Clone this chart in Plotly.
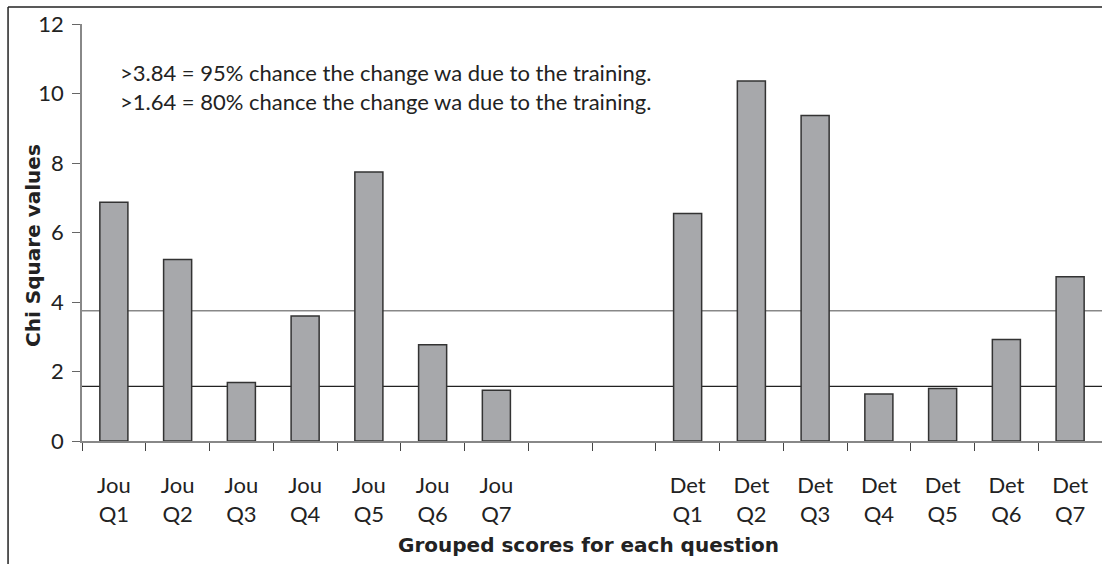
import plotly.graph_objects as go

categories = ["Jou<br>Q1", "Jou<br>Q2", "Jou<br>Q3", "Jou<br>Q4", "Jou<br>Q5", "Jou<br>Q6", "Jou<br>Q7",
              "gap1", "gap2",
              "Det<br>Q1", "Det<br>Q2", "Det<br>Q3", "Det<br>Q4", "Det<br>Q5", "Det<br>Q6", "Det<br>Q7"]
tick_labels = ["Jou<br>Q1", "Jou<br>Q2", "Jou<br>Q3", "Jou<br>Q4", "Jou<br>Q5", "Jou<br>Q6", "Jou<br>Q7",
               "", "",
               "Det<br>Q1", "Det<br>Q2", "Det<br>Q3", "Det<br>Q4", "Det<br>Q5", "Det<br>Q6", "Det<br>Q7"]
chi_values = [6.87, 5.22, 1.68, 3.60, 7.74, 2.77, 1.46,
              None, None,
              6.55, 10.36, 9.37, 1.35, 1.51, 2.92, 4.73]
threshold_95 = 3.75
threshold_80 = 1.57

FONT = "Lato"
TITLE_FONT = "DejaVu Sans"
TXT = "#222222"

fig = go.Figure()
fig.add_trace(go.Bar(
    x=categories, y=chi_values,
    marker=dict(color="#a7a8ab", line=dict(color="#333333", width=1.5)),
    width=0.44,
))

fig.add_hline(y=threshold_95, line=dict(color="#888888", width=1.5), layer="below")
fig.add_hline(y=threshold_80, line=dict(color="#222222", width=1.2), layer="below")

fig.add_annotation(text=">3.84 = 95% chance the change wa due to the training.<br>>1.64 = 80% chance the change wa due to the training.",
                   xref="paper", yref="paper", x=0.035, y=0.848, xanchor="left", yanchor="middle",
                   showarrow=False, align="left",
                   font=dict(family=FONT, size=22, color=TXT))

# axis titles
fig.add_annotation(text="<b>Grouped scores for each question</b>", xref="paper", yref="paper",
                   x=0.497, y=-0.249, xanchor="center", yanchor="middle", showarrow=False,
                   font=dict(family=TITLE_FONT, size=20, color=TXT))
fig.add_annotation(text="<b>Chi Square values</b>", xref="paper", yref="paper", textangle=-90,
                   x=-0.048, y=0.468, xanchor="center", yanchor="middle", showarrow=False,
                   font=dict(family=TITLE_FONT, size=20, color=TXT))

# outer frame
fig.add_shape(type="line", xref="paper", yref="paper", x0=-0.0725, x1=1.0, y0=1.0408, y1=1.0408,
              line=dict(color="#222222", width=1.5))
fig.add_shape(type="line", xref="paper", yref="paper", x0=-0.0725, x1=-0.0725, y0=1.0408, y1=-0.3,
              line=dict(color="#222222", width=1.5))

fig.update_layout(
    width=1102, height=564,
    margin=dict(l=82, r=0, t=24, b=123, autoexpand=False),
    plot_bgcolor="white", paper_bgcolor="white",
    showlegend=False,
    font=dict(family=FONT, size=20, color=TXT),
    xaxis=dict(
        type="category", categoryorder="array", categoryarray=categories,
        tickvals=categories, ticktext=tick_labels,
        tickson="boundaries", ticks="outside", ticklen=8, tickcolor="#444444",
        showline=True, linecolor="#888888", linewidth=1.5,
        showgrid=False, automargin=False,
        ticklabelstandoff=24,
        tickfont=dict(family=FONT, size=22, color=TXT),
        range=[-0.5, 15.5],
    ),
    yaxis=dict(
        range=[0, 12], dtick=2, tick0=0,
        ticks="outside", ticklen=8, tickcolor="#666666",
        showline=True, linecolor="#888888", linewidth=1.5,
        showgrid=False, zeroline=False, automargin=False,
        ticklabelstandoff=4,
        tickfont=dict(family=FONT, size=22, color=TXT),
    ),
    bargap=0.56,
)

fig.write_html("out.html", config={"displayModeBar": False},
               post_script="document.body.style.margin='0';document.body.style.overflow='hidden';")
